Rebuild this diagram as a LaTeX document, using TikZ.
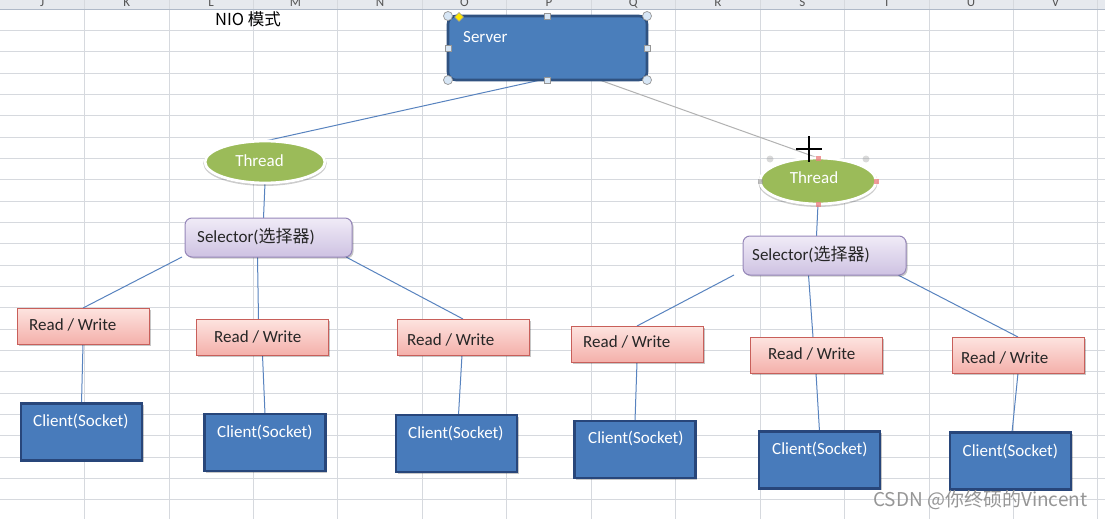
\documentclass[tikz,border=0pt]{standalone}
\usepackage{fontspec}
\setmainfont{Carlito}
\newfontfamily\cjk{Noto Sans CJK SC}
\usetikzlibrary{shapes.geometric,shadows}
\pgfdeclarelayer{sheet}
\pgfdeclarelayer{wires}
\pgfsetlayers{sheet,wires,main}

\definecolor{gridline}{RGB}{214,217,222}
\definecolor{headfill}{RGB}{230,233,238}
\definecolor{headline}{RGB}{175,185,200}
\definecolor{headtext}{RGB}{85,85,85}
\definecolor{wire}{RGB}{88,131,191}
\definecolor{wiregray}{RGB}{178,178,178}
\definecolor{srvfill}{RGB}{74,126,187}
\definecolor{srvedge}{RGB}{48,82,128}
\definecolor{clifill}{RGB}{72,123,187}
\definecolor{cliedge}{RGB}{40,70,122}
\definecolor{thfill}{RGB}{155,187,89}
\definecolor{seltop}{RGB}{240,235,247}
\definecolor{selbot}{RGB}{206,194,226}
\definecolor{seledge}{RGB}{150,135,185}
\definecolor{rwtop}{RGB}{253,228,224}
\definecolor{rwbot}{RGB}{244,176,170}
\definecolor{rwedge}{RGB}{200,95,90}
\definecolor{wmark}{RGB}{150,150,150}
\definecolor{handle}{RGB}{150,150,150}
\definecolor{handlefill}{RGB}{215,230,245}
\definecolor{pinkmark}{RGB}{235,130,130}

\tikzset{
  box/.style={rectangle, inner sep=0pt, outer sep=0pt},
  softshadow/.style={drop shadow={shadow xshift=1.5pt, shadow yshift=-1.5pt,
    opacity=0.22, fill=black}},
  server/.style={box, rounded corners=8pt, fill=srvfill, draw=srvedge,
    line width=2.6pt, minimum width=199pt, minimum height=64pt},
  client/.style={box, fill=clifill, draw=cliedge, line width=2.6pt,
    minimum width=121pt, minimum height=57pt, softshadow},
  thread/.style={ellipse, inner sep=0pt, outer sep=0pt, fill=thfill, draw=white,
    line width=2.8pt,
    drop shadow={shadow xshift=0pt, shadow yshift=-1.2pt, opacity=0.2, fill=black,
      draw=black, line width=3.5pt}},
  selbox/.style={box, rounded corners=7pt, top color=seltop, bottom color=selbot,
    draw=seledge, line width=1pt, minimum height=39pt, softshadow},
  rwbox/.style={box, top color=rwtop, bottom color=rwbot, draw=rwedge,
    line width=1pt, minimum width=132pt, minimum height=36pt, softshadow},
  label/.style={inner sep=0pt, text height=11pt, text depth=0pt, anchor=west,
    font=\fontsize{17}{17}\selectfont},
  wlabel/.style={label, text=white},
  dlabel/.style={label, text=black!85},
  wire/.style={draw=wire, line width=1pt},
  ghostwire/.style={draw=wiregray, line width=1pt},
  colhead/.style={inner sep=0pt, anchor=base, text=headtext,
    font=\fontsize{13}{13}\selectfont},
}

\begin{document}
\begin{tikzpicture}[x=1pt, y=-1pt]
\useasboundingbox (0,0) rectangle (1105,519);

% spreadsheet background: header strip and cell grid
\begin{pgfonlayer}{sheet}
  \fill[white] (0,0) rectangle (1105,519);
  \fill[headfill] (0,0) rectangle (1105,9);
  \foreach \k in {1,...,24}
    \draw[gridline, line width=0.8pt] (0,9+21.33*\k) -- (1105,9+21.33*\k);
  \foreach \k in {1,...,13}
    \draw[gridline, line width=0.8pt] (84.45*\k,0) -- (84.45*\k,519);
  \draw[headline, line width=0.8pt] (0,9) -- (1105,9);
  \foreach \L [count=\i from 0] in {J,K,L,M,N,O,P,Q,R,S,T,U,V}
    \node[colhead] (col\i) at (42.2+84.45*\i,6.5) {\L};
\end{pgfonlayer}

\node[inner sep=0pt, anchor=west, text height=12pt, text depth=0pt,
  font=\cjk\fontsize{16.5}{16.5}\selectfont] (title) at (215,20) {NIO 模式};

% server
\node[server] (server) at (547.5,48) {};
\node[wlabel] (servert) at (463,37) {Server};

% threads
\node[thread, minimum width=120pt, minimum height=42pt] (thL) at (265,162) {};
\node[wlabel, anchor=center] (thLt) at (259.5,161) {Thread};
\node[thread, minimum width=116pt, minimum height=46pt] (thR) at (818,181) {};
\node[wlabel, anchor=center] (thRt) at (814,178) {Thread};

% selectors
\node[selbox, minimum width=167pt] (selL) at (268.5,237.5) {};
\node[dlabel] (selLt) at (197,237) {Selector({\cjk 选择器})};
\node[selbox, minimum width=163pt] (selR) at (824.5,255.5) {};
\node[dlabel] (selRt) at (752,255) {Selector({\cjk 选择器})};

% read / write boxes
\node[rwbox] (rw1) at (83,326) {};
\node[dlabel] (rw1t) at (29,325) {Read / Write};
\node[rwbox] (rw2) at (262.5,337) {};
\node[dlabel] (rw2t) at (214,337) {Read / Write};
\node[rwbox] (rw3) at (463,337) {};
\node[dlabel] (rw3t) at (407,340) {Read / Write};
\node[rwbox] (rw4) at (637,344) {};
\node[dlabel] (rw4t) at (583,342) {Read / Write};
\node[rwbox] (rw5) at (816,355) {};
\node[dlabel] (rw5t) at (768,354) {Read / Write};
\node[rwbox] (rw6) at (1018,355) {};
\node[dlabel] (rw6t) at (961,358) {Read / Write};

% clients
\node[client] (c1) at (81.5,432) {};
\node[wlabel] (c1t) at (33,421) {Client(Socket)};
\node[client] (c2) at (265,442.5) {};
\node[wlabel] (c2t) at (217,432) {Client(Socket)};
\node[client] (c3) at (456.5,443.5) {};
\node[wlabel] (c3t) at (408,433) {Client(Socket)};
\node[client] (c4) at (635,449.5) {};
\node[wlabel] (c4t) at (588,438) {Client(Socket)};
\node[client] (c5) at (819.5,460) {};
\node[wlabel] (c5t) at (772,449) {Client(Socket)};
\node[client] (c6) at (1010.5,461) {};
\node[wlabel] (c6t) at (962.5,451) {Client(Socket)};

% connectors
\begin{pgfonlayer}{wires}
  \draw[wire] ([xshift=-7pt]server.south) -- (thL.north);
  \draw[ghostwire] ([xshift=52pt]server.south) -- (thR.north);
  \draw[wire] (thL.south) -- ([xshift=-5pt]selL.north);
  \draw[wire] (thR.south) -- ([xshift=-8pt]selR.north);
  \draw[wire] ([xshift=-3pt]selL.south west) -- (rw1.north);
  \draw[wire] ([xshift=-11pt]selL.south) -- ([xshift=-4pt]rw2.north);
  \draw[wire] ([xshift=-6pt]selL.south east) -- (rw3.north);
  \draw[wire] ([xshift=-9pt]selR.south west) -- (rw4.north);
  \draw[wire] ([xshift=-16pt]selR.south) -- ([xshift=-3pt]rw5.north);
  \draw[wire] ([xshift=-8pt]selR.south east) -- (rw6.north);
  \draw[wire] (rw1.south) -- (c1.north);
  \draw[wire] (rw2.south) -- (c2.north);
  \draw[wire] ([xshift=-1pt]rw3.south) -- ([xshift=2pt]c3.north);
  \draw[wire] (rw4.south) -- (c4.north);
  \draw[wire] (rw5.south) -- (c5.north);
  \draw[wire] (rw6.south) -- ([xshift=1.5pt]c6.north);
\end{pgfonlayer}

% selection handles on the server shape
\foreach \p in {(448,16),(647,16),(448,80),(647,80)}
  \draw[handle, fill=handlefill, line width=0.7pt] \p circle (4.5);
\foreach \p in {(547.5,16),(547.5,80),(448,48),(647,48)}
  \draw[handle, fill=handlefill, line width=0.6pt] \p ++(-3,-3) rectangle ++(6,6);
\draw[black!40, fill=yellow!90!orange, line width=0.5pt]
  (459,12.5) -- (463.5,17) -- (459,21.5) -- (454.5,17) -- cycle;

% connection markers on the right thread
\foreach \p in {(818,158),(876,181),(818,204)}
  \fill[pinkmark, opacity=0.8] \p ++(-2.5,-2.5) rectangle ++(5,5);
\fill[handle, opacity=0.6] (760,181) ++(-2.5,-2.5) rectangle ++(5,5);
\foreach \p in {(770,159),(866,159)}
  \fill[handle, opacity=0.35] \p circle (3.5);

% cross-hair cursor
\draw[black, line width=2pt] (796,149) -- (822,149);
\draw[black, line width=2pt] (809,136) -- (809,162);

\node[inner sep=0pt, anchor=west, text=wmark, text height=13pt, text depth=0pt,
  font=\cjk\fontsize{19}{19}\selectfont] (wm) at (873,500) {CSDN @你终硕的Vincent};
\end{tikzpicture}
\end{document}
